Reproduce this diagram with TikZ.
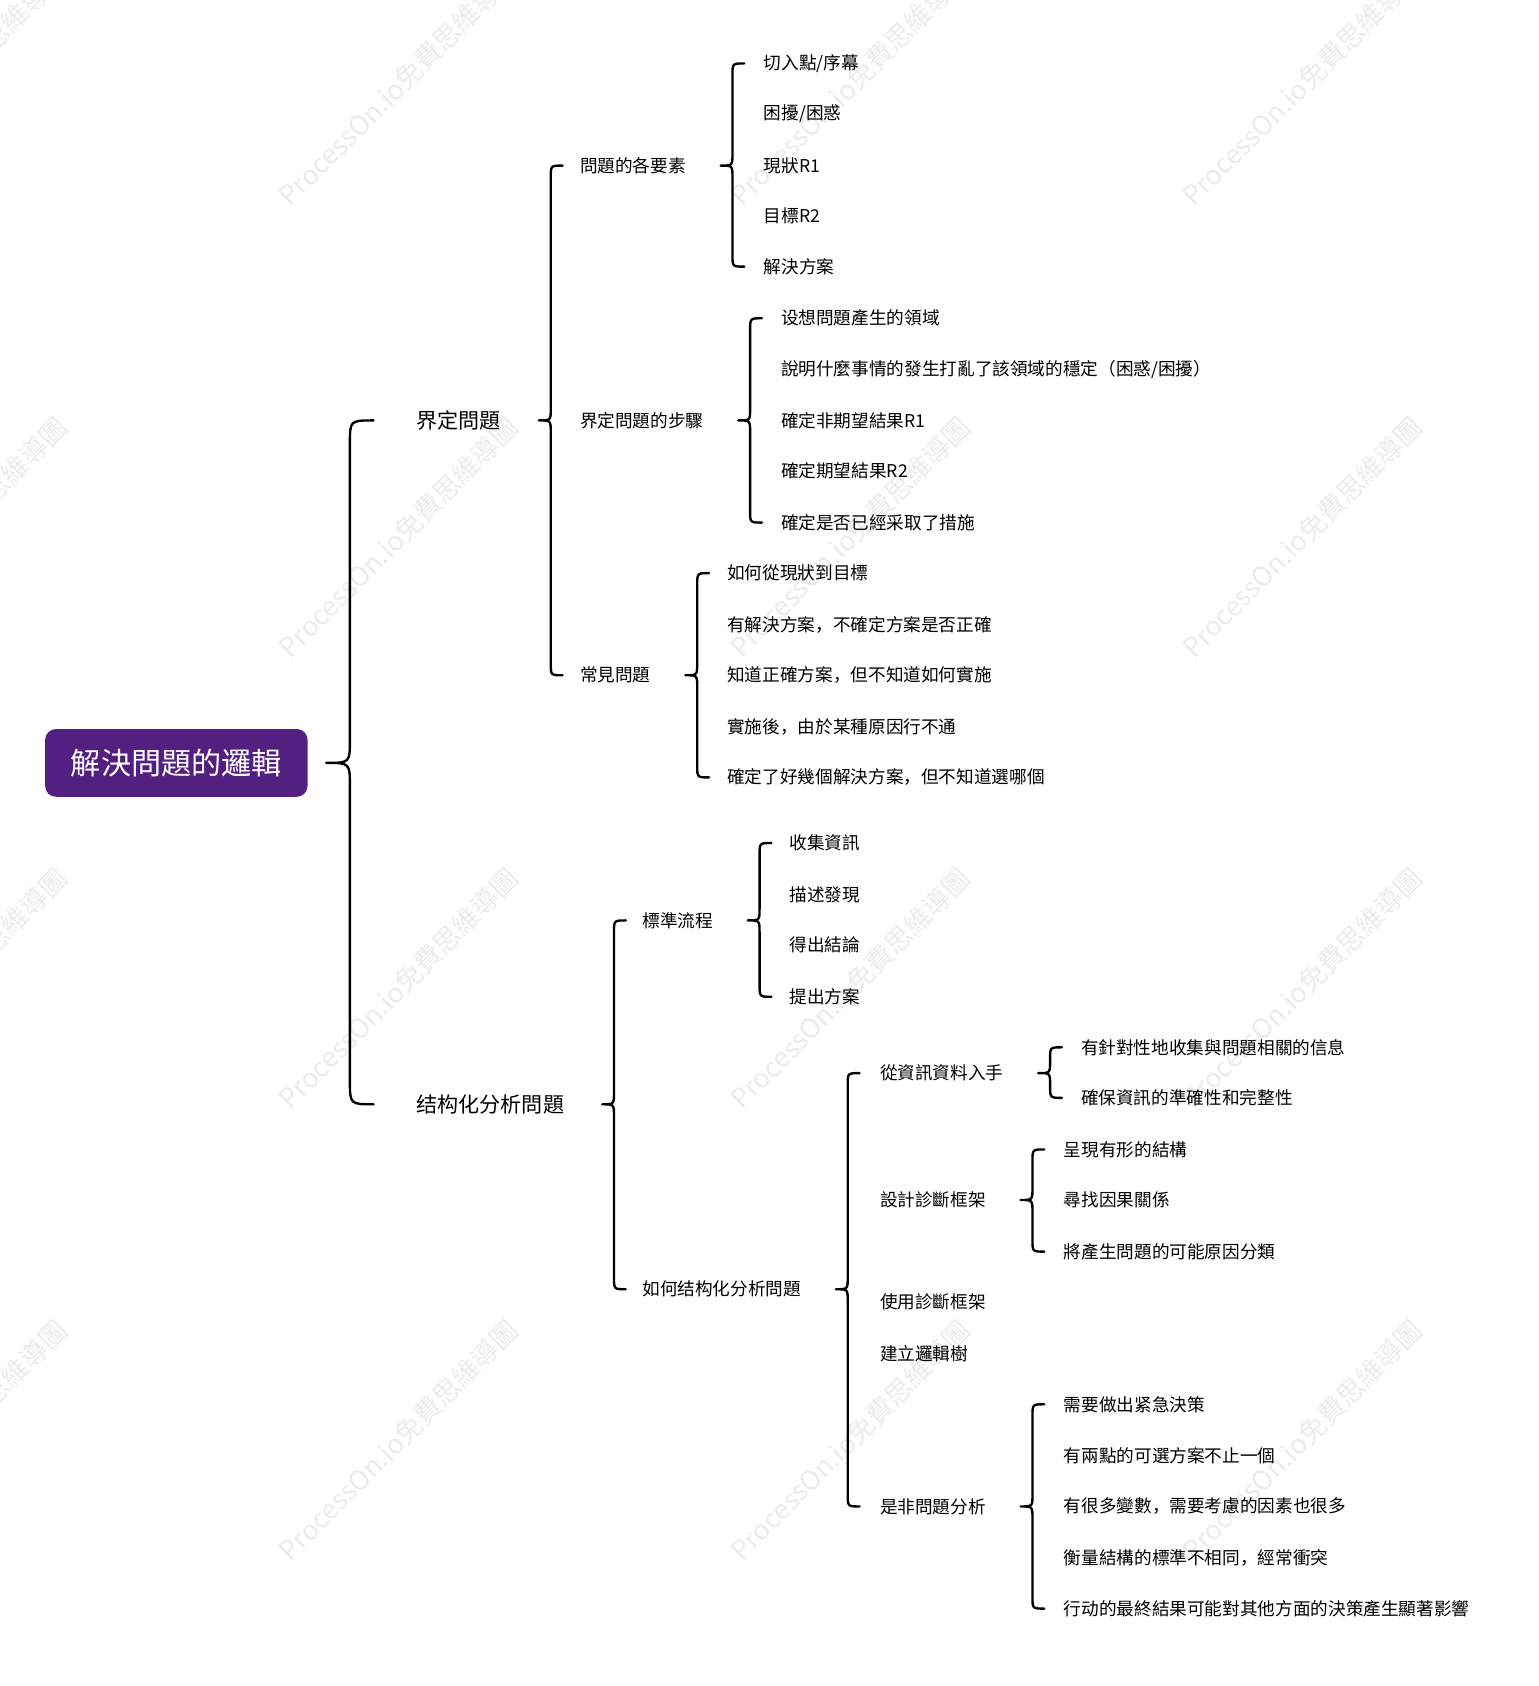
\documentclass[tikz,border=0pt]{standalone}
\usepackage{fontspec}
\setmainfont{Noto Sans CJK SC}
\usetikzlibrary{calc}

\definecolor{rootpurple}{HTML}{531F80}
\definecolor{markgray}{HTML}{EBEBEB}

% curly link: parent, first child, last child, gap, size
\newcommand{\curlylink}[5]{%
  \draw[curly] let \p1=(#1.east), \p2=(#2.west), \p3=(#3.west) in
    (\x1+#4+2*#5,\y2) .. controls (\x1+#4+#5,\y2) .. (\x1+#4+#5,\y2-#5)
    -- (\x1+#4+#5,\y1+#5) .. controls (\x1+#4+#5,\y1) .. (\x1+#4,\y1)
    .. controls (\x1+#4+#5,\y1) .. (\x1+#4+#5,\y1-#5)
    -- (\x1+#4+#5,\y3+#5) .. controls (\x1+#4+#5,\y3) .. (\x1+#4+2*#5,\y3);}

\tikzset{
  leaf/.style={anchor=west, inner sep=0pt, font=\fontsize{8.2}{10}\selectfont},
  branch/.style={leaf, font=\fontsize{9.8}{12}\selectfont},
  rootbox/.style={fill=rootpurple, text=white, rounded corners=5pt, inner sep=0pt,
    minimum width=122pt, minimum height=31.5pt, font=\fontsize{14}{16}\selectfont},
  curly/.style={line width=1.1pt, line cap=round, line join=round},
  wmark/.style={anchor=south west, rotate=45, inner sep=0pt, text=markgray,
    font=\fontsize{12.5}{14}\selectfont}
}

\begin{document}
\begin{tikzpicture}[x=0.5pt,y=-0.5pt]
\useasboundingbox (0,0) rectangle (1431,1568);

% watermark grid
\foreach \wx in {-148,272,692,1112}
  \foreach \wy in {195,615,1035,1455}
    \node[wmark] (wm\wx\wy) at (\wx,\wy) {ProcessOn.io免費思維導圖};

% root
\node[rootbox] (root) at (164,709.5) {解決問題的邏輯};

% level 1
\node[branch] (def) at (387,391) {界定問題};
\node[branch] (str) at (387,1027) {结构化分析問題};

% level 2
\node[leaf] (elem) at (539,154) {問題的各要素};
\node[leaf] (step) at (539,391) {界定問題的步驟};
\node[leaf] (comm) at (539,628) {常見問題};
\node[leaf] (flow) at (597,856) {標準流程};
\node[leaf] (how)  at (597,1199) {如何结构化分析問題};

% elements of a problem
\node[leaf] (elem1) at (710,59)  {切入點/序幕};
\node[leaf] (elem2) at (710,106) {困擾/困惑};
\node[leaf] (elem3) at (710,154) {現狀R1};
\node[leaf] (elem4) at (710,201) {目標R2};
\node[leaf] (elem5) at (710,248) {解決方案};

% steps
\node[leaf] (step1) at (726,296) {设想問題產生的領域};
\node[leaf] (step2) at (726,344) {說明什麼事情的發生打亂了該領域的穩定（困惑/困擾）};
\node[leaf] (step3) at (726,391) {確定非期望結果R1};
\node[leaf] (step4) at (726,438) {確定期望結果R2};
\node[leaf] (step5) at (726,486) {確定是否已經采取了措施};

% common problems
\node[leaf] (comm1) at (676,533) {如何從現狀到目標};
\node[leaf] (comm2) at (676,581) {有解決方案，不確定方案是否正確};
\node[leaf] (comm3) at (676,628) {知道正確方案，但不知道如何實施};
\node[leaf] (comm4) at (676,676) {實施後，由於某種原因行不通};
\node[leaf] (comm5) at (676,723) {確定了好幾個解決方案，但不知道選哪個};

% standard flow
\node[leaf] (flow1) at (734,784) {收集資訊};
\node[leaf] (flow2) at (734,832) {描述發現};
\node[leaf] (flow3) at (734,879) {得出結論};
\node[leaf] (flow4) at (734,927) {提出方案};

% how to analyse
\node[leaf] (how1) at (818,998)  {從資訊資料入手};
\node[leaf] (how2) at (818,1116) {設計診斷框架};
\node[leaf] (how3) at (818,1211) {使用診斷框架};
\node[leaf] (how4) at (818,1259) {建立邏輯樹};
\node[leaf] (how5) at (818,1401) {是非問題分析};

\node[leaf] (info1) at (1005,974)  {有針對性地收集與問題相關的信息};
\node[leaf] (info2) at (1005,1021) {確保資訊的準確性和完整性};

\node[leaf] (frm1) at (989,1069) {呈現有形的結構};
\node[leaf] (frm2) at (989,1116) {尋找因果關係};
\node[leaf] (frm3) at (989,1164) {將產生問題的可能原因分類};

\node[leaf] (yn1) at (989,1306) {需要做出紧急決策};
\node[leaf] (yn2) at (989,1354) {有兩點的可選方案不止一個};
\node[leaf] (yn3) at (989,1401) {有很多變數，需要考慮的因素也很多};
\node[leaf] (yn4) at (989,1449) {衡量結構的標準不相同，經常衝突};
\node[leaf] (yn5) at (989,1496) {行动的最終結果可能對其他方面的決策產生顯著影響};

% braces
\curlylink{root}{def}{str}{8.5pt}{11pt}
\curlylink{def}{elem}{comm}{17.5pt}{5.5pt}
\curlylink{str}{flow}{how}{17.5pt}{5.5pt}
\curlylink{elem}{elem1}{elem5}{16pt}{5.5pt}
\curlylink{step}{step1}{step5}{16pt}{5.5pt}
\curlylink{comm}{comm1}{comm5}{16pt}{5.5pt}
\curlylink{flow}{flow1}{flow4}{16pt}{5.5pt}
\curlylink{how}{how1}{how5}{16pt}{5.5pt}
\curlylink{how1}{info1}{info2}{16pt}{5.5pt}
\curlylink{how2}{frm1}{frm3}{16pt}{5.5pt}
\curlylink{how5}{yn1}{yn5}{16pt}{5.5pt}

\end{tikzpicture}
\end{document}
